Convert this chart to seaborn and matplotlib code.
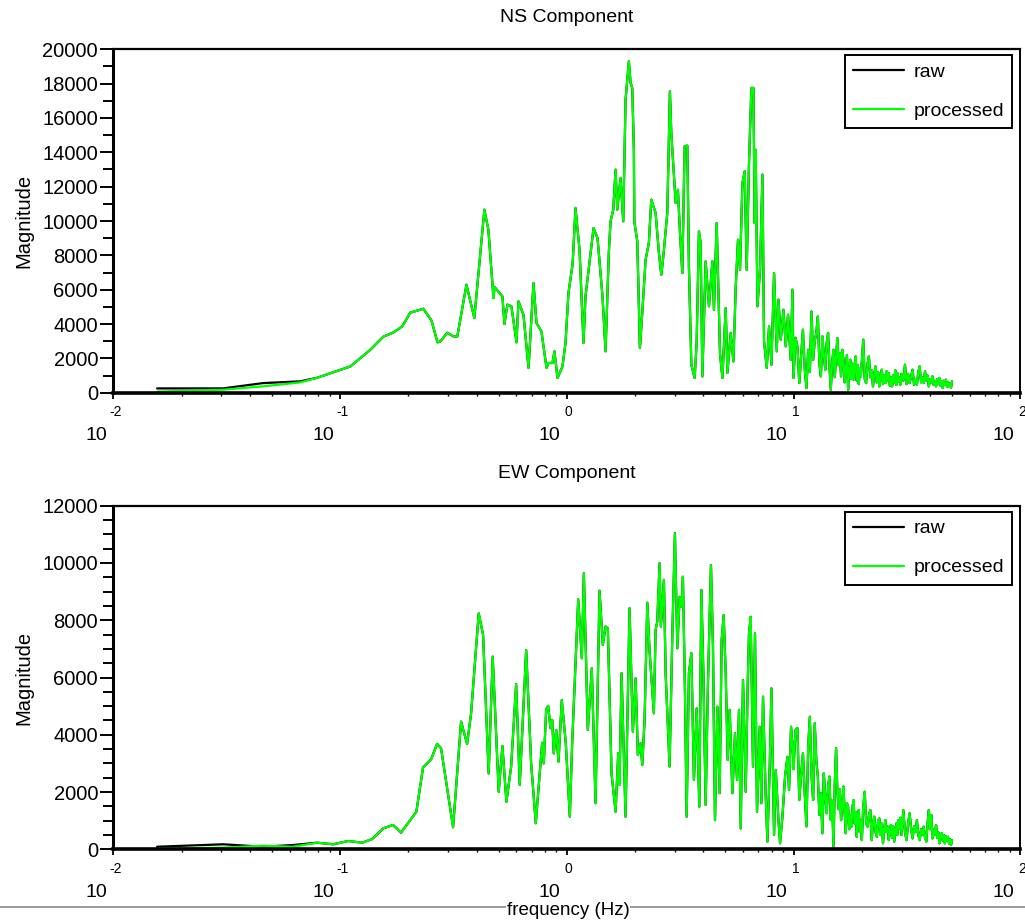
import numpy as np
import pandas as pd
import matplotlib
matplotlib.use("Agg")
import matplotlib.pyplot as plt
import seaborn as sns
from matplotlib.ticker import MultipleLocator, LogLocator, NullFormatter, FixedLocator
from matplotlib.lines import Line2D
from matplotlib import transforms

# ---------------- data ----------------
# NS component, below 10 Hz
ns_freq_low = [
    0.0156, 0.0305, 0.0458, 0.0667, 0.0793, 0.111, 0.136, 0.155, 0.172, 0.188,
    0.204, 0.233, 0.253, 0.269, 0.277, 0.297, 0.316, 0.329, 0.361, 0.391,
    0.433, 0.451, 0.475, 0.480, 0.520, 0.531, 0.547, 0.570, 0.600, 0.612,
    0.644, 0.678, 0.713, 0.735, 0.773, 0.814, 0.830, 0.865, 0.882, 0.910,
    0.957, 0.987, 1.017, 1.060, 1.071, 1.092, 1.138, 1.185, 1.209, 1.312,
    1.366, 1.437, 1.482, 1.532, 1.559, 1.603, 1.641, 1.669, 1.726, 1.774,
    1.816, 1.878, 1.911, 1.944, 1.976, 1.985, 2.046, 2.101, 2.152, 2.226,
    2.301, 2.358, 2.464, 2.548, 2.611, 2.665, 2.775, 2.849, 2.890, 2.950,
    3.020, 3.091, 3.154, 3.232, 3.308, 3.400, 3.456, 3.542, 3.663, 3.738,
    3.826, 3.893, 3.961, 4.096, 4.236, 4.385, 4.457, 4.581, 4.738, 4.855,
    5.021, 5.108, 5.282, 5.429, 5.557, 5.689, 5.806, 5.949, 6.089, 6.214,
    6.361, 6.518, 6.653, 6.741, 6.810, 6.929, 7.115, 7.291, 7.411, 7.617,
    7.797, 7.990, 8.204, 8.432, 8.578, 8.781, 9.025, 9.239, 9.456, 9.719,
    9.888,
]
ns_processed_low = [
    60, 175, 370, 600, 870, 1530, 2500, 3260, 3510, 3860,
    4660, 4890, 4210, 2930, 2990, 3490, 3280, 3280, 6290, 4350,
    10660, 9490, 5510, 6160, 5610, 4000, 5130, 5030, 2930, 5320,
    4540, 1440, 6390, 4060, 3570, 1440, 1730, 1730, 2410, 860,
    1530, 2900, 5810, 7460, 8520, 10760, 8330, 2900, 5610, 9590,
    9010, 5610, 2410, 8140, 9980, 10660, 12990, 10660, 12500, 9980,
    17060, 19300, 18040, 17750, 14150, 9980, 8810, 2600, 4640, 7750,
    8720, 11240, 10470, 8140, 6870, 7940, 10470, 17550, 15120, 13180,
    11050, 11820, 9390, 6970, 14350, 14390, 7360, 1630, 860, 2900,
    9390, 8720, 950, 7650, 5030, 7650, 4830, 9880, 2310, 860,
    4930, 1150, 3480, 1820, 6100, 8910, 7160, 12210, 12890, 7160,
    13380, 17750, 17750, 9880, 14150, 5030, 7160, 12700, 2990, 1440,
    3860, 1630, 6970, 2410, 5420, 3090, 4830, 2700, 4540, 1920,
    6000,
]
# NS component, 10-50 Hz (dense band)
ns_freq_high = [
    10.0, 10.2, 10.4, 10.6, 10.8, 11.0, 11.2, 11.4, 11.6, 11.8,
    12.0, 12.2, 12.4, 12.6, 12.8, 13.0, 13.2, 13.4, 13.6, 13.8,
    14.0, 14.2, 14.4, 14.6, 14.8, 15.0, 15.2, 15.4, 15.6, 15.8,
    16.0, 16.2, 16.4, 16.6, 16.8, 17.0, 17.2, 17.4, 17.6, 17.8,
    18.0, 18.2, 18.4, 18.6, 18.8, 19.0, 19.2, 19.4, 19.6, 19.8,
    20.0, 20.3, 20.6, 20.9, 21.2, 21.5, 21.8, 22.1, 22.4, 22.7,
    23.0, 23.3, 23.6, 23.9, 24.2, 24.5, 24.8, 25.1, 25.4, 25.7,
    26.0, 26.3, 26.6, 26.9, 27.2, 27.5, 27.8, 28.1, 28.4, 28.7,
    29.0, 29.3, 29.6, 29.9, 30.5, 31.0, 31.5, 32.0, 32.5, 33.0,
    33.5, 34.0, 34.5, 35.0, 35.5, 36.0, 36.5, 37.0, 37.5, 38.0,
    38.5, 39.0, 39.5, 40.0, 40.5, 41.0, 41.5, 42.0, 42.5, 43.0,
    43.5, 44.0, 44.5, 45.0, 45.5, 46.0, 46.5, 47.0, 47.5, 48.0,
    48.5, 49.0, 49.5, 50.0,
]
ns_processed_high = [
    860, 3200, 2700, 560, 2100, 3670, 1400, 270, 2500, 1200,
    4730, 1920, 3000, 3480, 4440, 1700, 950, 3280, 2200, 1340,
    2900, 3480, 1500, 170, 1800, 2500, 900, 2100, 3180, 1600,
    2300, 950, 2500, 1920, 600, 1400, 2200, 170, 1300, 1920,
    800, 1700, 760, 1500, 2110, 700, 1600, 500, 1400, 950,
    1800, 3090, 800, 560, 1700, 2110, 900, 1300, 370, 1100,
    1530, 600, 1200, 370, 900, 1340, 500, 1000, 560, 1250,
    700, 1150, 400, 900, 370, 1000, 600, 1300, 450, 1150,
    650, 900, 470, 1100, 700, 1630, 500, 1100, 560, 950,
    1340, 450, 800, 470, 1200, 1530, 600, 900, 560, 1240,
    700, 1000, 370, 800, 600, 950, 450, 700, 370, 800,
    500, 860, 400, 650, 270, 700, 450, 760, 350, 600,
    370, 550, 300, 660,
]
ns_raw_first = [250, 250, 560, 660]   # raw differs from processed only at the lowest bins

# EW component, below 10 Hz
ew_freq_low = [
    0.0156, 0.0305, 0.0458, 0.0621, 0.0793, 0.0933, 0.1087, 0.1253, 0.1387, 0.155,
    0.1713, 0.1857, 0.2170, 0.2323, 0.2520, 0.2678, 0.2789, 0.3151, 0.3418, 0.3633,
    0.3784, 0.4088, 0.4274, 0.4523, 0.4712, 0.5008, 0.5200, 0.5416, 0.5682, 0.5979,
    0.6200, 0.6619, 0.6963, 0.7296, 0.7786, 0.7915, 0.8111, 0.8278, 0.8472, 0.8620,
    0.8760, 0.8978, 0.9191, 0.9504, 0.9899, 1.031, 1.056, 1.123, 1.165, 1.189,
    1.238, 1.289, 1.339, 1.394, 1.442, 1.482, 1.517, 1.575, 1.641, 1.686,
    1.708, 1.744, 1.816, 1.891, 1.956, 2.011, 2.058, 2.115, 2.152, 2.203,
    2.265, 2.318, 2.366, 2.421, 2.464, 2.506, 2.566, 2.600, 2.681, 2.728,
    2.803, 2.840, 2.919, 2.998, 3.072, 3.145, 3.210, 3.252, 3.319, 3.377,
    3.456, 3.542, 3.637, 3.738, 3.842, 3.921, 4.002, 4.096, 4.193, 4.323,
    4.412, 4.503, 4.613, 4.722, 4.819, 4.918, 5.021, 5.123, 5.229, 5.374,
    5.518, 5.632, 5.747, 5.848, 5.986, 6.152, 6.279, 6.361, 6.471, 6.625,
    6.761, 6.900, 7.092, 7.216, 7.334, 7.539, 7.670, 7.851, 7.990, 8.204,
    8.347, 8.578, 8.719, 8.933, 9.173, 9.400, 9.553, 9.750, 9.950,
]
ew_processed_low = [
    20, 60, 125, 90, 230, 175, 290, 230, 360, 730,
    850, 580, 1310, 2860, 3140, 3680, 3530, 770, 4460, 3680,
    4750, 8240, 7490, 2650, 6730, 2010, 3610, 1660, 2890, 5770,
    2250, 6960, 3000, 910, 3720, 3000, 4890, 5010, 4230, 4520,
    3350, 4170, 3060, 5210, 3700, 1140, 3700, 8730, 6670, 9640,
    4170, 6320, 1610, 9030, 7140, 7780, 7720, 2650, 1310, 3350,
    2250, 6150, 1140, 8420, 4110, 5970, 3290, 3700, 2940, 4520,
    8610, 6900, 5910, 4750, 7660, 7950, 9990, 7780, 9410, 6150,
    3930, 2890, 7430, 11040, 7020, 8820, 8470, 9520, 5560, 1140,
    6150, 6850, 2420, 4920, 1490, 9060, 6150, 1550, 5800, 9930,
    7080, 1020, 4980, 1960, 7310, 8180, 6150, 3120, 4870, 1960,
    4050, 2420, 4870, 730, 5910, 2010, 5800, 7540, 8120, 2890,
    7540, 1310, 4280, 1610, 5330, 1840, 270, 2890, 5620, 500,
    2770, 1020, 210, 1140, 2540, 3230, 2070, 4280, 3350,
]
# EW component, 10-50 Hz (dense band)
ew_freq_high = list(ns_freq_high)
ew_processed_high = [
    2800, 4170, 4230, 1720, 2600, 3350, 1960, 800, 3580, 4630,
    2600, 1720, 4400, 3100, 2540, 1200, 1960, 560, 2650, 1800,
    1260, 2200, 2540, 1020, 1700, 90, 2300, 3530, 2070, 1400,
    2100, 1020, 1500, 2190, 1300, 560, 1600, 1490, 700, 1200,
    790, 1500, 1720, 900, 1300, 440, 1100, 1370, 600, 1000,
    320, 1500, 2010, 900, 790, 1200, 1370, 320, 900, 1140,
    600, 440, 1000, 1080, 500, 900, 210, 700, 1020, 600,
    800, 320, 700, 850, 400, 800, 270, 600, 900, 500,
    1020, 700, 1100, 500, 1370, 600, 320, 900, 1260, 700,
    380, 800, 600, 1020, 500, 320, 700, 500, 790, 400,
    270, 900, 1370, 700, 1200, 380, 700, 500, 850, 400,
    600, 210, 500, 560, 300, 500, 210, 450, 300, 440,
    200, 350, 150, 320,
]
ew_raw_first = [90, 175, 90, 150]

ns_freq = ns_freq_low + ns_freq_high
ns_processed = ns_processed_low + ns_processed_high
ns_raw = ns_raw_first + ns_processed[len(ns_raw_first):]
ew_freq = ew_freq_low + ew_freq_high
ew_processed = ew_processed_low + ew_processed_high
ew_raw = ew_raw_first + ew_processed[len(ew_raw_first):]

series_names = ["raw", "processed"]
series_colors = {"raw": "#000000", "processed": "#00ff00"}
decades = [0.01, 0.1, 1, 10, 100]
decade_exponents = ["-2", "-1", "0", "1", "2"]

# ---------------- figure ----------------
sns.set_style("white")
plt.rcParams["font.family"] = ["Liberation Sans", "DejaVu Sans"]
plt.rcParams["text.color"] = "black"
plt.rcParams["axes.labelcolor"] = "black"
plt.rcParams["xtick.color"] = "black"
plt.rcParams["ytick.color"] = "black"

W, H = 1025, 921
fig = plt.figure(figsize=(W / 100, H / 100), dpi=100)


def px_rect(l, t, r, b):
    return [l / W, 1 - b / H, (r - l) / W, (b - t) / H]


ax_ns = fig.add_axes(px_rect(113.3, 49.3, 1020.3, 392.7))
ax_ew = fig.add_axes(px_rect(113.3, 505.7, 1020.3, 849.3))


def draw_panel(ax, freq, raw, proc, ymax, yminor, title, title_y):
    n = len(freq)
    df = pd.DataFrame({
        "frequency": list(freq) * 2,
        "magnitude": list(raw) + list(proc),
        "signal": ["raw"] * n + ["processed"] * n,
    })
    sns.lineplot(data=df, x="frequency", y="magnitude", hue="signal",
                 hue_order=series_names, palette=series_colors,
                 estimator=None, sort=False, linewidth=1.6, legend=False, ax=ax)
    ax.set_xscale("log")
    ax.set_xlim(0.01, 100)
    ax.set_ylim(0, ymax)
    ax.set_xlabel("")
    ax.set_ylabel("")

    ax.yaxis.set_major_locator(MultipleLocator(2000))
    ax.yaxis.set_minor_locator(MultipleLocator(yminor))
    ax.xaxis.set_major_locator(FixedLocator(decades))
    ax.xaxis.set_minor_locator(LogLocator(base=10, subs=np.arange(2, 10), numticks=50))
    ax.xaxis.set_major_formatter(NullFormatter())
    ax.xaxis.set_minor_formatter(NullFormatter())

    ax.tick_params(axis="y", which="major", direction="out", length=9.5, width=1.4,
                   labelsize=14.5, pad=1.5, left=True, right=False)
    ax.tick_params(axis="y", which="minor", direction="out", length=7, width=1.4,
                   left=True, right=False)
    ax.tick_params(axis="x", which="major", direction="out", length=4, width=1.3,
                   bottom=True, top=False)
    ax.tick_params(axis="x", which="minor", direction="out", length=2.5, width=1.0,
                   bottom=True, top=False)

    for side, lw in (("left", 2.2), ("bottom", 2.6), ("top", 1.6), ("right", 1.4)):
        ax.spines[side].set_visible(True)
        ax.spines[side].set_color("black")
        ax.spines[side].set_linewidth(lw)

    # Scilab-style log tick labels: exponent above, "10" below and to the left
    exp_tr = transforms.offset_copy(ax.get_xaxis_transform(), fig=fig, x=2, y=-19.5, units="dots")
    base_tr = transforms.offset_copy(ax.get_xaxis_transform(), fig=fig, x=-17, y=-43, units="dots")
    for d, e in zip(decades, decade_exponents):
        ax.text(d, 0, e, transform=exp_tr, ha="center", va="center", fontsize=10)
        ax.text(d, 0, "10", transform=base_tr, ha="center", va="center", fontsize=14)

    handles = [Line2D([], [], color=series_colors[s], lw=1.6) for s in series_names]
    bb = ax.get_position()
    ax_w = bb.width * W
    ax_h = bb.height * H
    leg = ax.legend(handles, series_names, loc="upper right",
                    bbox_to_anchor=(1 - 8 / ax_w, 1 - 6 / ax_h), borderaxespad=0,
                    frameon=True, fancybox=False, framealpha=1, edgecolor="black",
                    fontsize=14, handlelength=2.6, handletextpad=0.5,
                    labelspacing=1.1, borderpad=0.42)
    leg.get_frame().set_linewidth(1.4)

    cx = (bb.x0 + bb.x1) / 2
    fig.text(cx, 1 - title_y / H, title, ha="center", va="center", fontsize=14)
    fig.text(24 / W, (bb.y0 + bb.y1) / 2, "Magnitude", rotation=90,
             ha="center", va="center", fontsize=14.5)


draw_panel(ax_ns, ns_freq, ns_raw, ns_processed, 20000, 1000, "NS Component", 18)
draw_panel(ax_ew, ew_freq, ew_raw, ew_processed, 12000, 500, "EW Component", 473)

# bottom rule and x label
fig.add_artist(Line2D([0, 1], [1 - 907 / H, 1 - 907 / H], transform=fig.transFigure,
                      color="#8a8a8a", lw=1.2, zorder=1))
fig.text(568 / W, 1 - 910 / H, "frequency (Hz)", ha="center", va="center", fontsize=13.5,
         zorder=3, bbox=dict(facecolor="white", edgecolor="none", pad=0.5))

fig.savefig("out.png", dpi=100)
